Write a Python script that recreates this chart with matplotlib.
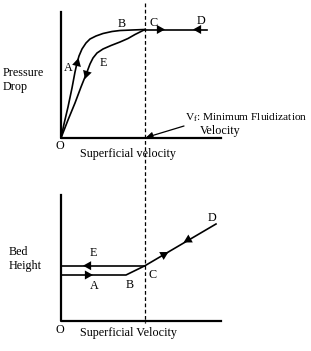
import matplotlib.pyplot as plt

plt.rcParams['font.family'] = ['Liberation Serif', 'DejaVu Serif']

# schematic curves (x right, y down)
pd_up_x = [61, 64, 68, 72, 75, 77, 79, 82, 86, 90, 96, 103, 112, 120, 132, 145]
pd_up_y = [138, 124, 107, 88, 72, 63, 56, 49, 43, 39, 36, 33.5, 31.5, 30.5, 30, 29.5]
pd_down_x = [61, 68, 75, 81, 87, 90, 93, 97, 103, 111, 120, 128, 135, 140, 145]
pd_down_y = [138, 120, 103, 87, 72, 64, 58, 53, 49, 45.5, 42, 38.5, 34.5, 32, 29.5]
pd_flat_x = [145, 207]
pd_flat_y = [29.5, 29.5]

bh_up_x = [61, 126, 145, 216]
bh_up_y = [275, 275, 265.7, 224]
bh_down_x = [145, 61]
bh_down_y = [265.7, 265.7]

v_mf = 145


def arrow(ax, x0, y0, x1, y1, ms=13):
    ax.annotate('', xy=(x1, y1), xytext=(x0, y0),
                arrowprops=dict(arrowstyle='-|>,head_length=0.45,head_width=0.25',
                                mutation_scale=ms, color='k', lw=0,
                                shrinkA=0, shrinkB=0))


def main():
    fig = plt.figure(figsize=(3.11, 3.51), dpi=100)
    ax = fig.add_axes([0, 0, 1, 1])
    ax.set_xlim(0, 311)
    ax.set_ylim(351, 0)
    ax.axis('off')

    lw = 1.2
    # top panel axes
    ax.plot([61, 61, 221], [12, 138, 138], color='k', lw=1.6)
    ax.plot(pd_up_x, pd_up_y, color='k', lw=lw)
    ax.plot(pd_down_x, pd_down_y, color='k', lw=lw)
    ax.plot(pd_flat_x, pd_flat_y, color='k', lw=lw)
    arrow(ax, 75, 72, 78.5, 58)
    arrow(ax, 89, 66, 85, 79)
    arrow(ax, 152, 29.5, 165, 29.5)
    arrow(ax, 205, 29.5, 193, 29.5)

    # bottom panel axes
    ax.plot([61, 61, 221], [195, 321, 321], color='k', lw=1.6)
    ax.plot(bh_up_x, bh_up_y, color='k', lw=lw)
    ax.plot(bh_down_x, bh_down_y, color='k', lw=lw)
    arrow(ax, 80, 275, 93, 275)
    arrow(ax, 95, 265.7, 83, 265.7)
    arrow(ax, 157, 258.5, 168.5, 252)
    arrow(ax, 195, 236, 183.5, 242.5)

    ax.plot([v_mf, v_mf], [3, 323], color='k', lw=0.9, ls=(0, (3, 2)))

    fs = 8.7
    txt = dict(fontsize=fs, color='k')
    ax.text(3, 80, 'Pressure\nDrop', va='center', ha='left', linespacing=1.2, **txt)
    ax.text(60, 146, 'O', ha='center', va='center', **txt)
    ax.text(80, 154, 'Superficial velocity', ha='left', va='center', **txt)
    ax.text(68, 68, 'A', ha='center', va='center', **txt)
    ax.text(103, 63, 'E', ha='center', va='center', **txt)
    ax.text(122, 24, 'B', ha='center', va='center', **txt)
    ax.text(154, 23, 'C', ha='center', va='center', **txt)
    ax.text(201, 21, 'D', ha='center', va='center', **txt)
    ax.text(185, 118, r'V$_\mathregular{f}$: Minimum Fluidization', ha='left', va='center',
            fontsize=8.2, color='k')
    ax.text(200, 131, 'Velocity', ha='left', va='center', **txt)
    ax.annotate('', xy=(146, 137.5), xytext=(184, 126),
                arrowprops=dict(arrowstyle='-|>', mutation_scale=10, color='k',
                                lw=0.9, shrinkA=0, shrinkB=0))

    ax.text(9, 259, 'Bed\nHeight', va='center', ha='left', linespacing=1.2, **txt)
    ax.text(93, 253, 'E', ha='center', va='center', **txt)
    ax.text(94, 286, 'A', ha='center', va='center', **txt)
    ax.text(130, 285, 'B', ha='center', va='center', **txt)
    ax.text(153, 275, 'C', ha='center', va='center', **txt)
    ax.text(212, 218, 'D', ha='center', va='center', **txt)
    ax.text(60, 330, 'O', ha='center', va='center', **txt)
    ax.text(80, 333, 'Superficial Velocity', ha='left', va='center', **txt)

    fig.savefig('out.png', dpi=100)


if __name__ == '__main__':
    main()
